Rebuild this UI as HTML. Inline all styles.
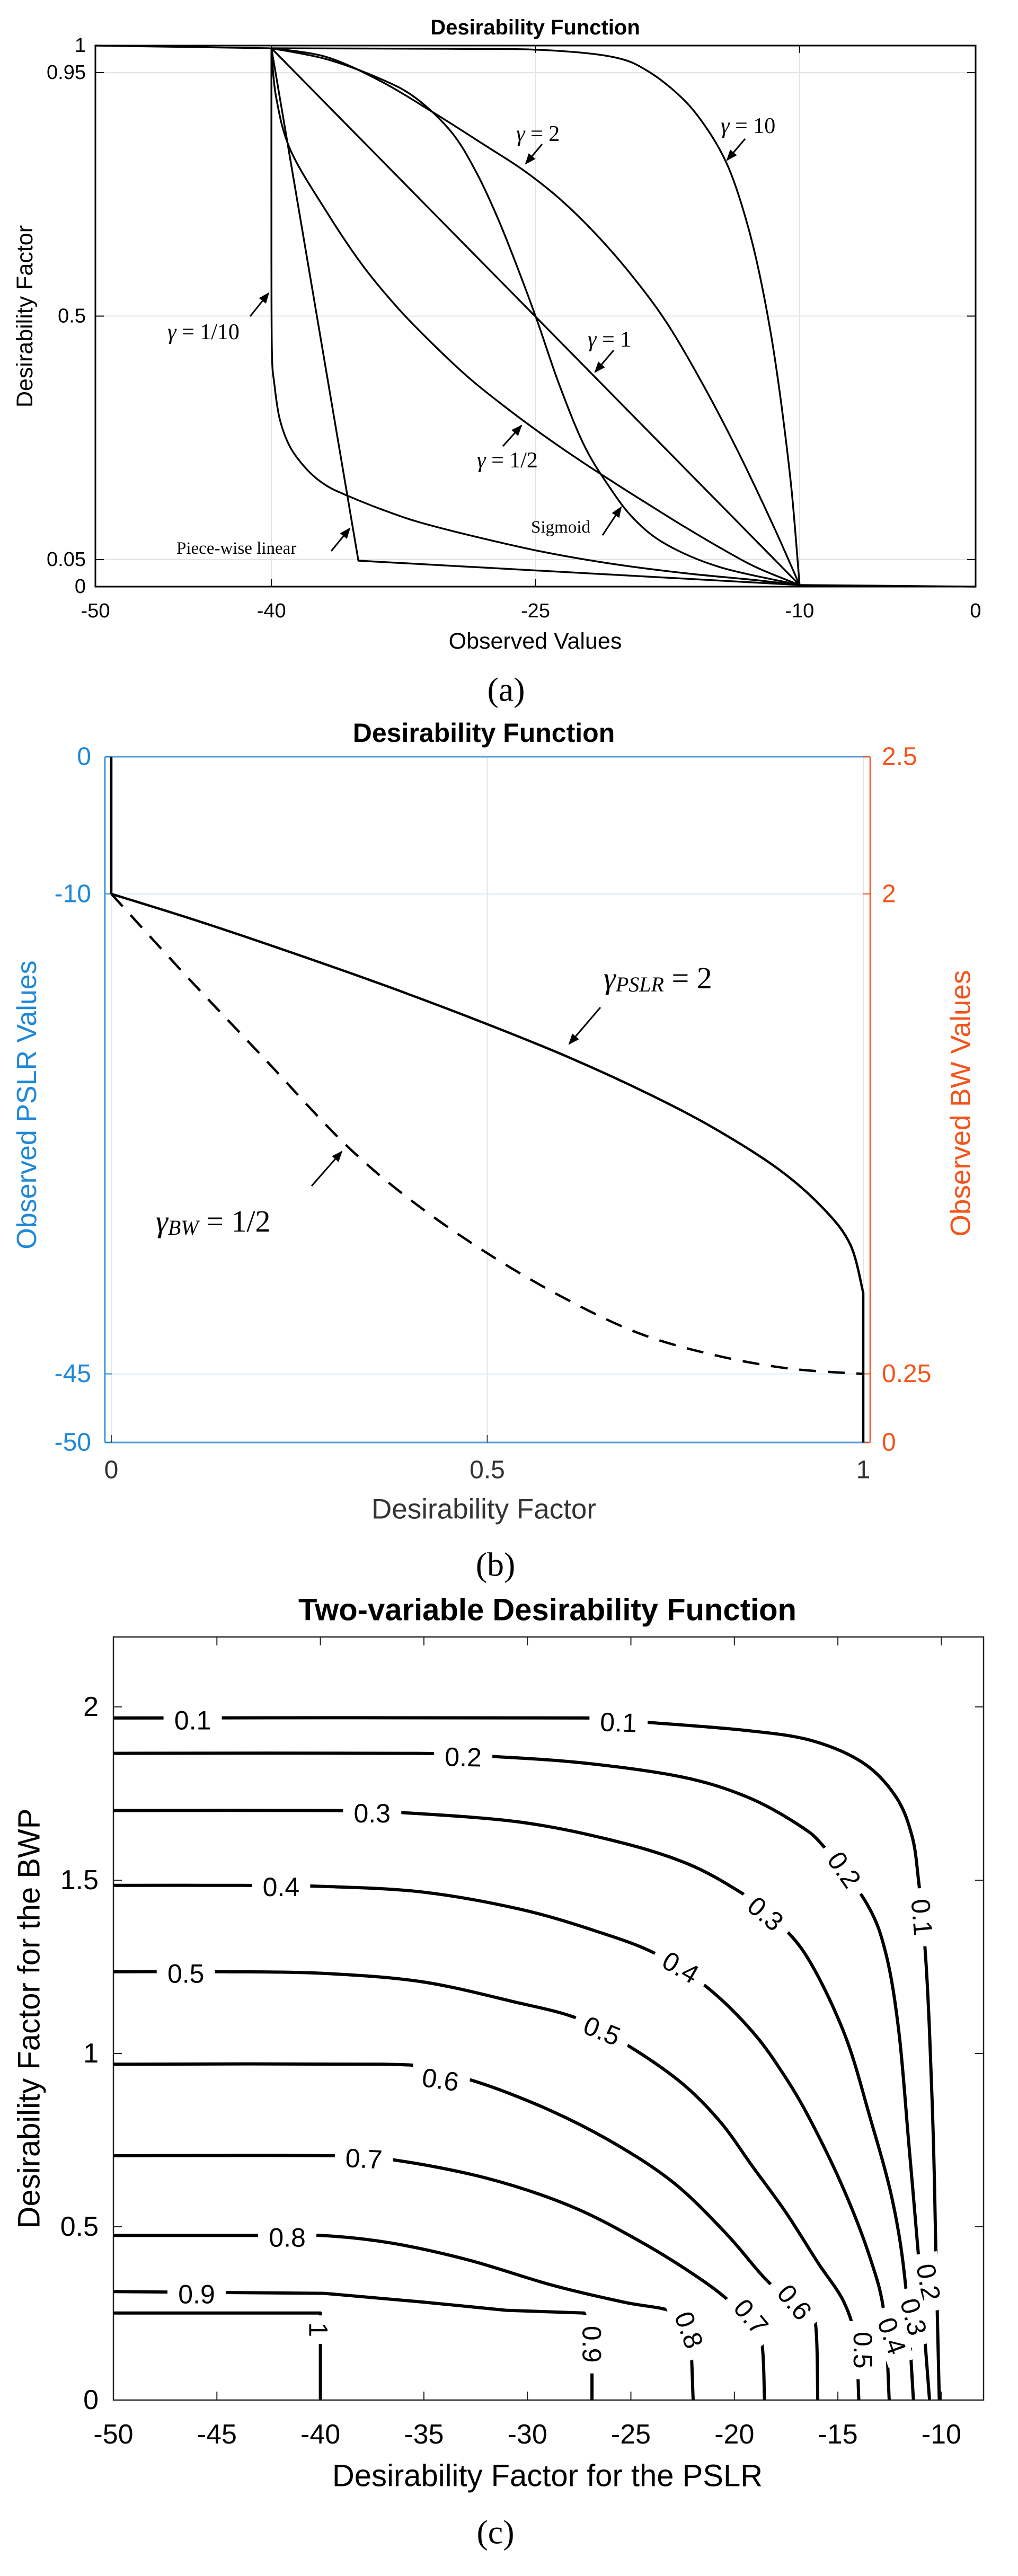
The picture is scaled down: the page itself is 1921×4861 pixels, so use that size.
<!DOCTYPE html>
<html><head><meta charset="utf-8"><title>Desirability Functions</title>
<style>
html,body{margin:0;padding:0;background:#fff;}
svg{display:block;}
text{font-family:"Liberation Sans",Arial,sans-serif;}
.serif{font-family:"Liberation Serif","Times New Roman",serif;}
</style></head>
<body>
<svg id="fig" xmlns="http://www.w3.org/2000/svg" width="1921" height="4861" viewBox="0 0 1921 4861">
<rect x="0" y="0" width="1921" height="4861" fill="#fff"/>
<defs>
<marker id="ah" viewBox="0 0 10 10" refX="9" refY="5" markerWidth="7" markerHeight="7" orient="auto-start-reverse"><path d="M0,1 L10,5 L0,9 Z" fill="#000"/></marker>
</defs>
<g id="ga"></g>
<g id="gb"></g>
<g id="gc"></g>
</svg>
<script>
// ---------- Chart (a) data ----------
const aXTicks=[-50,-40,-25,-10,0];
const aYTicks=[0,0.05,0.5,0.95,1];
const aYTickLabels=["0","0.05","0.5","0.95","1"];
const plateauX=[-50,-40];const plateauD=[1,0.995];
const tailX=[-10,0];const tailD=[0.003,0];
const g10X=[-40,-40,-39.97,-39.84,-39.53,-38.92,-37.91,-36.89,-35.67,-33.84,-31.8,-28.75,-24.69,-20.62,-16.55,-12.48,-10];
const g10D=[0.995,0.6,0.43,0.376,0.31,0.257,0.214,0.187,0.168,0.144,0.121,0.095,0.065,0.042,0.025,0.012,0.003];
const pwX=[-40,-35.06,-10];const pwD=[0.995,0.048,0.003];
const g1X=[-40,-10];const g1D=[0.995,0.003];
const gHalfX=[-40,-39.74,-38.92,-36.89,-34.85,-32.82,-30.79,-28.75,-26.72,-24.69,-22.65,-20.62,-18.58,-16.55,-14.52,-12.48,-10];
const gHalfD=[0.995,0.906,0.807,0.694,0.595,0.515,0.447,0.385,0.332,0.283,0.237,0.194,0.152,0.111,0.072,0.036,0.003];
const g2X=[-40,-36.89,-33.84,-30.79,-27.74,-25.7,-23.67,-21.64,-19.6,-17.57,-15.53,-13.5,-11.47,-10];
const g2D=[0.995,0.979,0.935,0.876,0.813,0.77,0.718,0.654,0.578,0.489,0.376,0.25,0.111,0.003];
const gTenX=[-40,-30,-24.69,-20.62,-18.58,-16.55,-15.13,-14.11,-13.3,-12.48,-11.67,-11.06,-10.45,-10];
const gTenD=[0.995,0.994,0.992,0.979,0.952,0.899,0.84,0.78,0.707,0.608,0.475,0.343,0.177,0.003];
const sigX=[-40,-36.89,-33.84,-31.8,-29.77,-28.35,-27.13,-25.91,-24.89,-23.67,-22.25,-20.82,-19.4,-17.57,-14.52,-10];
const sigD=[0.995,0.975,0.939,0.903,0.84,0.765,0.68,0.58,0.49,0.375,0.262,0.185,0.125,0.078,0.036,0.003];

// ---------- Chart (b) data ----------
const bXTicks=[0,0.5,1];const bXTickLabels=["0","0.5","1"];
const bLeftTicks=[0,-10,-45,-50];const bLeftLabels=["0","-10","-45","-50"];
const bRightTicks=[2.5,2,0.25,0];const bRightLabels=["2.5","2","0.25","0"];
const pslrD=[0,0,0.111,0.241,0.37,0.5,0.612,0.715,0.802,0.888,0.948,0.983,1,1];
const pslrV=[0,-10,-11.9,-14.3,-16.8,-19.5,-22.0,-24.6,-27.1,-30.1,-33.0,-35.6,-39.1,-50];
const bwD=[0,0.1,0.2,0.31,0.4,0.5,0.6,0.7,0.8,0.9,1];
const bwV=[2.0,1.70,1.41,1.09,0.88,0.69,0.53,0.40,0.32,0.27,0.25];

// ---------- Chart (c) data ----------
const cXTicks=[-50,-45,-40,-35,-30,-25,-20,-15,-10];
const cYTicks=[0,0.5,1,1.5,2];
const cLevels=["0.1","0.2","0.3","0.4","0.5","0.6","0.7","0.8","0.9","1"];
const c01=[[-50,1.968],[-27.26,1.968],[-24.12,1.955],[-19.42,1.932],[-16.28,1.903],[-13.77,1.838],[-12.2,1.741],[-11.42,1.628],[-11.1,1.498],[-10.79,1.304],[-10.57,1.061],[-10.38,0.737],[-10.26,0.413],[-10.1,0]];
const c02=[[-50,1.866],[-35.41,1.866],[-31.96,1.858],[-27.26,1.838],[-22.55,1.798],[-19.42,1.741],[-16.91,1.66],[-15.65,1.595],[-13.61,1.433],[-12.68,1.288],[-12.05,1.061],[-11.57,0.737],[-11.1,0.413],[-10.79,0.17],[-10.57,0]];
const c03=[[-50,1.701],[-39.49,1.701],[-36.36,1.696],[-30.4,1.668],[-25.69,1.612],[-22.24,1.547],[-19.73,1.466],[-18.48,1.409],[-16.59,1.288],[-14.71,1.061],[-13.46,0.818],[-12.36,0.575],[-11.73,0.332],[-11.35,0]];
const c04=[[-50,1.485],[-43.88,1.485],[-39.81,1.482],[-35.1,1.466],[-30.4,1.417],[-26.63,1.352],[-23.81,1.288],[-21.3,1.19],[-19.1,1.061],[-17.53,0.931],[-16.28,0.802],[-14.71,0.607],[-13.46,0.413],[-12.77,0.251],[-12.52,0]];
const c05=[[-50,1.236],[-44.51,1.236],[-39.81,1.231],[-35.1,1.207],[-30.71,1.15],[-27.57,1.101],[-25.06,1.02],[-22.55,0.915],[-20.67,0.802],[-19.1,0.672],[-17.53,0.543],[-15.97,0.397],[-14.71,0.283],[-14.15,0.17],[-13.99,0]];
const c06=[[-50,0.969],[-37,0.969],[-35,0.955],[-32.28,0.915],[-28.83,0.834],[-25.69,0.737],[-22.87,0.624],[-20.36,0.478],[-18.48,0.348],[-16.91,0.267],[-16.12,0.235],[-15.97,0]];
const c07=[[-50,0.705],[-39.33,0.705],[-36.36,0.692],[-31.96,0.64],[-27.89,0.559],[-24.44,0.454],[-21.61,0.348],[-20.04,0.275],[-18.79,0.202],[-18.54,0]];
const c08=[[-50,0.475],[-43.1,0.475],[-39.96,0.475],[-36.67,0.454],[-32.9,0.405],[-28.83,0.332],[-25.38,0.283],[-23.18,0.259],[-22.24,0.219],[-21.99,0]];
const c09=[[-50,0.313],[-39.81,0.308],[-35.1,0.283],[-31.02,0.259],[-27.26,0.251],[-26.88,0.2],[-26.88,0]];
const c10=[[-50,0.251],[-40,0.251],[-40,0]];
// contour label positions [x, y, rotation deg, level text]
const cLabels=[[-46.17,1.961,0,"0.1"],[-25.6,1.955,2,"0.1"],[-33.1,1.855,1,"0.2"],[-37.5,1.693,0,"0.3"],[-41.9,1.48,0,"0.4"],[-46.5,1.23,0,"0.5"],[-34.2,0.924,8,"0.6"],[-37.9,0.696,3,"0.7"],[-41.6,0.469,0,"0.8"],[-45.98,0.305,0,"0.9"],
 [-14.7,1.53,55,"0.2"],[-18.5,1.403,40,"0.3"],[-22.6,1.248,30,"0.4"],[-26.4,1.065,22,"0.5"],[-10.95,1.393,85,"0.1"],[-10.63,0.34,80,"0.2"],[-11.35,0.24,75,"0.3"],[-12.4,0.185,70,"0.4"],[-13.8,0.144,90,"0.5"],[-17.1,0.282,50,"0.6"],[-19.2,0.24,50,"0.7"],[-22.2,0.202,70,"0.8"],[-26.9,0.161,90,"0.9"],[-40.1,0.203,90,"1"]];

const NS="http://www.w3.org/2000/svg";
function mk(parent,tag,attrs){const e=document.createElementNS(NS,tag);for(const k in attrs)e.setAttribute(k,attrs[k]);parent.appendChild(e);return e;}
function txt(parent,x,y,s,size,opts){const e=mk(parent,"text",Object.assign({x:x,y:y,"font-size":size,"dominant-baseline":"central","text-anchor":"middle",fill:"#000"},opts||{}));e.textContent=s;return e;}
function smoothPath(pts){
  if(pts.length<3){return "M"+pts.map(p=>p[0].toFixed(1)+","+p[1].toFixed(1)).join(" L");}
  let d="M"+pts[0][0].toFixed(1)+","+pts[0][1].toFixed(1);
  for(let i=0;i<pts.length-1;i++){
    const p0=pts[i>0?i-1:i],p1=pts[i],p2=pts[i+1],p3=pts[i+2<pts.length?i+2:i+1];
    const c1=[p1[0]+(p2[0]-p0[0])/6,p1[1]+(p2[1]-p0[1])/6];
    const c2=[p2[0]-(p3[0]-p1[0])/6,p2[1]-(p3[1]-p1[1])/6];
    d+=" C"+c1[0].toFixed(1)+","+c1[1].toFixed(1)+" "+c2[0].toFixed(1)+","+c2[1].toFixed(1)+" "+p2[0].toFixed(1)+","+p2[1].toFixed(1);
  }
  return d;
}
function linePath(pts){return "M"+pts.map(p=>p[0].toFixed(1)+","+p[1].toFixed(1)).join(" L");}
function arrow(parent,x1,y1,x2,y2,name){
  const l=mk(parent,"line",{x1:x1,y1:y1,x2:x2,y2:y2,stroke:"#000","stroke-width":3,"marker-end":"url(#ah)"});
  
  
}

// ================= Chart (a) =================
(function(){
  const g=document.getElementById("ga");
  const L=180,R=1841,T=86,B=1107;
  const X=x=>L+(x+50)*(R-L)/50;
  const Y=d=>B-d*(B-T);
  const t=txt(g,1010,52,"Desirability Function",40,{"font-weight":"bold"});
  
  [-40,-25,-10].forEach(v=>{const e=mk(g,"line",{x1:X(v),y1:T,x2:X(v),y2:B,stroke:"#e4e4e4","stroke-width":2});});
  [0.05,0.5,0.95].forEach(v=>{const e=mk(g,"line",{x1:L,y1:Y(v),x2:R,y2:Y(v),stroke:"#e4e4e4","stroke-width":2});});
  const box=mk(g,"rect",{x:L,y:T,width:R-L,height:B-T,fill:"none",stroke:"#000","stroke-width":3});
  
  aXTicks.forEach(v=>{
    mk(g,"line",{x1:X(v),y1:B,x2:X(v),y2:B-14,stroke:"#000","stroke-width":2});
    mk(g,"line",{x1:X(v),y1:T,x2:X(v),y2:T+14,stroke:"#000","stroke-width":2});
    const e=txt(g,X(v),1153,String(v),38);
  });
  aYTicks.forEach((v,i)=>{
    mk(g,"line",{x1:L,y1:Y(v),x2:L+16,y2:Y(v),stroke:"#000","stroke-width":2});
    mk(g,"line",{x1:R,y1:Y(v),x2:R-16,y2:Y(v),stroke:"#000","stroke-width":2});
    const e=txt(g,162,Y(v),aYTickLabels[i],38,{"text-anchor":"end"});
  });
  const xl=txt(g,1010,1210,"Observed Values",43);
  const yl=txt(g,0,0,"Desirability Factor",43,{transform:"translate(47,597) rotate(-90)"});
  const cap=txt(g,955,1301,"(a)",64,{class:"serif"});
  const series=[["plateau-line",plateauX,plateauD,false],["tail-line",tailX,tailD,false],["curve-gamma-1-10",g10X,g10D,true],["curve-piecewise-linear",pwX,pwD,false],["curve-gamma-1",g1X,g1D,false],["curve-gamma-1-2",gHalfX,gHalfD,true],["curve-gamma-2",g2X,g2D,true],["curve-gamma-10",gTenX,gTenD,true],["curve-sigmoid",sigX,sigD,true]];
  series.forEach(s=>{
    const pts=s[1].map((x,i)=>[X(x),Y(s[2][i])]);
    const p=mk(g,"path",{d:s[3]?smoothPath(pts):linePath(pts),fill:"none",stroke:"#000","stroke-width":3.4,"stroke-linejoin":"round"});
    
  });
  function ann(x,y,main,name,size){
    const e=mk(g,"text",{x:x,y:y,"font-size":size,"dominant-baseline":"central",class:"serif",fill:"#000"});
    e.innerHTML=main;
    
  }
  ann(974,253,'<tspan font-style="italic">γ</tspan> = 2',"label-gamma-2",42);
  arrow(g,1023,272,992,309,"arrow-gamma-2");
  ann(1360,238,'<tspan font-style="italic">γ</tspan> = 10',"label-gamma-10",42);
  arrow(g,1406,262,1372,302,"arrow-gamma-10");
  ann(316,627,'<tspan font-style="italic">γ</tspan> = 1/10',"label-gamma-1-10",42);
  arrow(g,472,597,507,553,"arrow-gamma-1-10");
  ann(1109,641,'<tspan font-style="italic">γ</tspan> = 1',"label-gamma-1",42);
  arrow(g,1158,661,1123,702,"arrow-gamma-1");
  ann(900,869,'<tspan font-style="italic">γ</tspan> = 1/2',"label-gamma-1-2",42);
  arrow(g,949,842,984,803,"arrow-gamma-1-2");
  ann(1002,995,'Sigmoid',"label-sigmoid",33);
  arrow(g,1137,1010,1172,957,"arrow-sigmoid");
  ann(333,1035,'Piece-wise linear',"label-piecewise",33);
  arrow(g,625,1040,660,997,"arrow-piecewise");
})();

// ================= Chart (b) =================
(function(){
  const g=document.getElementById("gb");
  const AL=198,AR=1642,T=1428,B=2722;
  const X=d=>210+d*1419;
  const YL=v=>T-v*(B-T)/50;
  const YR=w=>T+(2.5-w)*(B-T)/2.5;
  const BLUE="#1e88d8",ORANGE="#f4541c";
  const t=txt(g,913,1383,"Desirability Function",50,{"font-weight":"bold"});
  bXTicks.forEach(v=>{const e=mk(g,"line",{x1:X(v),y1:T,x2:X(v),y2:B,stroke:"#e6e6e6","stroke-width":2});});
  [-10,-45].forEach(v=>{const e=mk(g,"line",{x1:AL,y1:YL(v),x2:AR,y2:YL(v),stroke:"#dcecf8","stroke-width":2});});
  const top=mk(g,"line",{x1:AL,y1:T,x2:AR,y2:T,stroke:"#5d9bd5","stroke-width":3});
  const bot=mk(g,"line",{x1:AL,y1:B,x2:AR,y2:B,stroke:"#5d9bd5","stroke-width":3});
  const la=mk(g,"line",{x1:AL,y1:T,x2:AL,y2:B,stroke:BLUE,"stroke-width":2.5});
  const ra=mk(g,"line",{x1:AR,y1:T,x2:AR,y2:B,stroke:ORANGE,"stroke-width":2.5});
  bLeftTicks.forEach((v,i)=>{
    mk(g,"line",{x1:AL,y1:YL(v),x2:AL+14,y2:YL(v),stroke:BLUE,"stroke-width":2});
    const e=txt(g,172,YL(v),bLeftLabels[i],48,{"text-anchor":"end",fill:BLUE});
  });
  bRightTicks.forEach((v,i)=>{
    mk(g,"line",{x1:AR,y1:YR(v),x2:AR-14,y2:YR(v),stroke:ORANGE,"stroke-width":2});
    const e=txt(g,1664,YR(v),bRightLabels[i],48,{"text-anchor":"start",fill:ORANGE});
  });
  bXTicks.forEach((v,i)=>{
    mk(g,"line",{x1:X(v),y1:B,x2:X(v),y2:B-14,stroke:"#444","stroke-width":2});
    const e=txt(g,X(v),2774,bXTickLabels[i],48,{fill:"#333"});
  });
  const xl=txt(g,913,2848,"Desirability Factor",53,{fill:"#333"});
  const yl=txt(g,0,0,"Observed PSLR Values",52,{fill:BLUE,transform:"translate(51,2085) rotate(-90)"});
  const yr=txt(g,0,0,"Observed BW Values",53,{fill:ORANGE,transform:"translate(1813,2082) rotate(-90)"});
  const cap=txt(g,935,2952,"(b)",64,{class:"serif"});
  const v0=mk(g,"path",{d:linePath([[X(pslrD[0]),YL(pslrV[0])],[X(pslrD[1]),YL(pslrV[1])]]),fill:"none",stroke:"#000","stroke-width":4.5});
  
  const ps=pslrD.slice(1,pslrD.length-1).map((d,i)=>[X(d),YL(pslrV[i+1])]);
  const pp=mk(g,"path",{d:smoothPath(ps)+" L"+X(pslrD[pslrD.length-1]).toFixed(1)+","+YL(pslrV[pslrV.length-1]).toFixed(1),fill:"none",stroke:"#000","stroke-width":4.5});
  
  const bw=bwD.map((d,i)=>[X(d),YR(bwV[i])]);
  const bp=mk(g,"path",{d:smoothPath(bw),fill:"none",stroke:"#000","stroke-width":4.5,"stroke-dasharray":"32 22"});
  
  const a1=mk(g,"text",{x:1139,y:1845,"font-size":58,class:"serif","dominant-baseline":"central",fill:"#000"});
  a1.innerHTML='<tspan font-style="italic">γ</tspan><tspan font-style="italic" font-size="40" dy="12">PSLR</tspan><tspan dy="-12"> = 2</tspan>';
  
  arrow(g,1133,1901,1074,1970,"arrow-gamma-pslr");
  const a2=mk(g,"text",{x:294,y:2304,"font-size":58,class:"serif","dominant-baseline":"central",fill:"#000"});
  a2.innerHTML='<tspan font-style="italic">γ</tspan><tspan font-style="italic" font-size="40" dy="12">BW</tspan><tspan dy="-12"> = 1/2</tspan>';
  
  arrow(g,588,2238,645,2173,"arrow-gamma-bw");
})();

// ================= Chart (c) =================
(function(){
  const g=document.getElementById("gc");
  const L=214,R=1856,T=3089,B=4529;
  const X=x=>L+(x+50)*39.06;
  const Y=y=>B-y*654;
  const t=txt(g,1033,3038,"Two-variable Desirability Function",58,{"font-weight":"bold"});
  const box=mk(g,"rect",{x:L,y:T,width:R-L,height:B-T,fill:"none",stroke:"#222","stroke-width":2.5});
  
  cXTicks.forEach(v=>{
    mk(g,"line",{x1:X(v),y1:B,x2:X(v),y2:B-16,stroke:"#222","stroke-width":2});
    mk(g,"line",{x1:X(v),y1:T,x2:X(v),y2:T+16,stroke:"#222","stroke-width":2});
    const e=txt(g,X(v),4594,String(v),52);
  });
  cYTicks.forEach(v=>{
    mk(g,"line",{x1:L,y1:Y(v),x2:L+16,y2:Y(v),stroke:"#222","stroke-width":2});
    mk(g,"line",{x1:R,y1:Y(v),x2:R-16,y2:Y(v),stroke:"#222","stroke-width":2});
    const e=txt(g,186,Y(v),String(v),52,{"text-anchor":"end"});
  });
  const xl=txt(g,1033,4672,"Desirability Factor for the PSLR",58);
  const yl=txt(g,0,0,"Desirability Factor for the BWP",58,{transform:"translate(55,3809) rotate(-90)"});
  const cap=txt(g,935,4778,"(c)",64,{class:"serif"});
  const contours=[c01,c02,c03,c04,c05,c06,c07,c08,c09,c10];
  contours.forEach((c,i)=>{
    const pts=c.map(p=>[X(p[0]),Y(p[1])]);
    const smooth=i<8;
    const p=mk(g,"path",{d:smooth?smoothPath(pts):linePath(pts),fill:"none",stroke:"#000","stroke-width":6,"stroke-linejoin":"round"});
    
  });
  cLabels.forEach(lb=>{
    const x=X(lb[0]),y=Y(lb[1]);
    const w=lb[3].length*28+26;
    const grp=mk(g,"g",{transform:"rotate("+lb[2]+" "+x.toFixed(1)+" "+y.toFixed(1)+")"});
    
    
    const r=mk(grp,"rect",{x:(x-w/2).toFixed(1),y:(y-26).toFixed(1),width:w,height:52,fill:"#fff"});
    
    
    const e=mk(grp,"text",{x:x,y:y,"font-size":50,"text-anchor":"middle","dominant-baseline":"central",fill:"#000"});
    e.textContent=lb[3];
    
    
  });
})();
</script>
</body></html>
